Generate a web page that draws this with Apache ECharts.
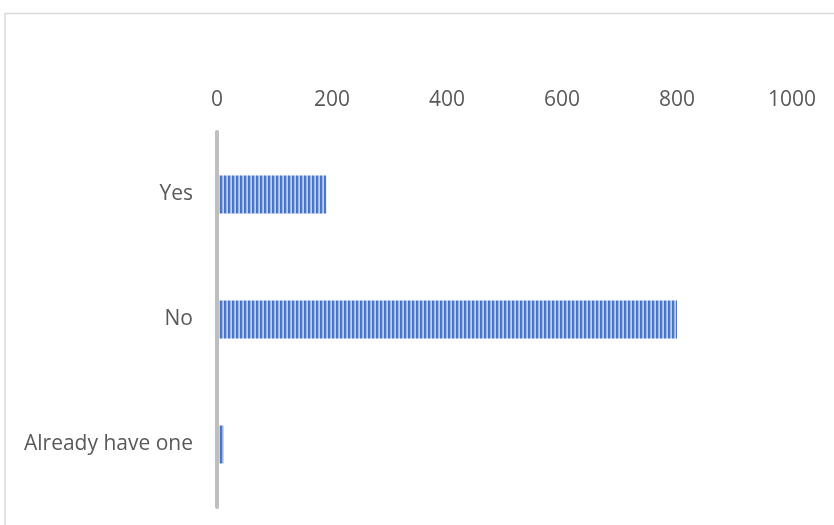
<!DOCTYPE html>
<html>
<head>
<meta charset="utf-8">
<script src="https://cdn.jsdelivr.net/npm/echarts@6/dist/echarts.min.js"></script>
<style>
html,body{margin:0;padding:0;background:#fff;}
#chart{width:834px;height:525px;}
</style>
</head>
<body>
<div id="chart"></div>
<script>
const categories = ["Yes", "No", "Already have one"];
const values = [190, 800, 12];
const xTicks = [0, 200, 400, 600, 800, 1000];

// vertical stripe pattern
const pc = document.createElement('canvas');
pc.width = 4; pc.height = 4;
const pctx = pc.getContext('2d');
const cols = ['#4472C4', '#4f7bca', '#9db5e2', '#c2d2ee'];
for (let i = 0; i < 4; i++) { pctx.fillStyle = cols[i]; pctx.fillRect(i, 0, 1, 4); }

const chart = echarts.init(document.getElementById('chart'), null, {renderer: 'canvas'});
const font = '"Open Sans", sans-serif';
chart.setOption({
  backgroundColor: '#fff',
  animation: false,
  graphic: [{
    type: 'rect', z: 0,
    shape: {x: 5, y: 13.5, width: 1000, height: 1000},
    style: {fill: 'none', stroke: '#d9d9d9', lineWidth: 1.5}
  }],
  grid: {left: 217, right: 42, top: 132, bottom: 18, containLabel: false},
  xAxis: {
    type: 'value', position: 'top',
    min: xTicks[0], max: xTicks[xTicks.length - 1], interval: 200,
    axisLine: {show: false}, axisTick: {show: false}, splitLine: {show: false},
    axisLabel: {color: '#595959', fontSize: 21, fontFamily: font, margin: 21,
      formatter: function (v) { return String(v); }}
  },
  yAxis: {
    type: 'category', data: categories, inverse: true, z: 5,
    axisLine: {show: true, lineStyle: {color: '#bfbfbf', width: 4}},
    axisTick: {show: false},
    axisLabel: {color: '#595959', fontSize: 21, fontFamily: font, margin: 24}
  },
  series: [{
    type: 'bar', data: values, barWidth: 38,
    itemStyle: {color: {image: pc, repeat: 'repeat'}}
  }]
});
</script>
</body>
</html>
